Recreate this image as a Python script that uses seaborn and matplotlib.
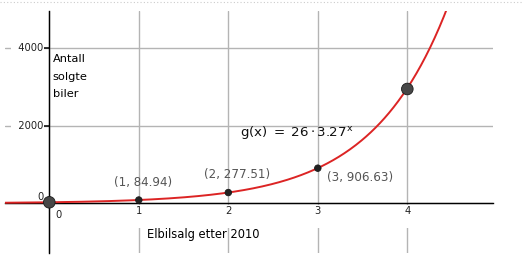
import numpy as np
import pandas as pd
import matplotlib
matplotlib.use("Agg")
import matplotlib.pyplot as plt
from matplotlib.lines import Line2D
import seaborn as sns

# ---- data ----
point_x = [0, 1, 2, 3, 4]
point_y = [26, 84.94, 277.51, 906.63, 2950]
point_kind = ["end", "mid", "mid", "mid", "end"]
point_labels = ["", "(1, 84.94)", "(2, 277.51)", "(3, 906.63)", ""]
label_pos = [None, (0.723, 454), (1.728, 661), (3.099, 583), None]

g_a = 26
g_b = 3.27

x_ticks = [0, 1, 2, 3, 4]
x_tick_labels = ["0", "1", "2", "3", "4"]
y_ticks = [2000, 4000]
y_tick_labels = ["2000", "4000"]

sns.set_theme(style="white")
plt.rcParams['font.family'] = ['DejaVu Sans']

fig = plt.figure(figsize=(5.23, 2.74), dpi=100)
ax = fig.add_axes([5 / 523, (274 - 252.7) / 274, 487.7 / 523, 241.7 / 274])
ax.set_facecolor("white")
ax.set_xlim(-0.495, 4.954)
ax.set_ylim(-1275, 4963)

# grid
ax.set_xticks(x_ticks)
ax.set_yticks([0] + y_ticks)
ax.grid(True, color="#b4b4b4", lw=1)
ax.set_axisbelow(False)
ax.tick_params(axis="x", length=0, labelbottom=False)
ax.tick_params(axis="y", which="major", direction="out", length=4, width=1.1,
               color="black", labelleft=False, left=True)

for s in ["top", "right"]:
    ax.spines[s].set_visible(False)
ax.spines["left"].set_position(("data", 0))
ax.spines["bottom"].set_position(("data", 0))
for s in ["left", "bottom"]:
    ax.spines[s].set_color("black")
    ax.spines[s].set_linewidth(1)
    ax.spines[s].set_zorder(4)

# function curve g(x) = 26 * 3.27^x
xs = np.linspace(-0.495, 4.6, 400)
curve = pd.DataFrame({"x": xs, "y": g_a * g_b ** xs})
sns.lineplot(data=curve, x="x", y="y", ax=ax, color="#dc2424", lw=1.4,
             zorder=5, legend=False)

# points
pts = pd.DataFrame({"x": point_x, "y": point_y, "kind": point_kind})
sns.scatterplot(data=pts, x="x", y="y", hue="kind", size="kind",
                sizes={"end": 70, "mid": 22},
                palette={"end": "#474747", "mid": "#222222"},
                edgecolor="#1a1a1a", linewidth=0.6, ax=ax, zorder=6,
                legend=False)

ax.set_xlabel("")
ax.set_ylabel("")

# point labels
for lab, pos in zip(point_labels, label_pos):
    if lab:
        ax.text(pos[0], pos[1], lab, fontsize=8.6, color="#555555",
                ha="left", va="baseline", zorder=7)

# tick labels with white background
white = dict(boxstyle="square,pad=0.1", fc="white", ec="none")
for xt, lab in zip(x_ticks, x_tick_labels):
    if xt == 0:
        ax.annotate(lab, (xt, 0), xytext=(9, -7), textcoords="offset pixels",
                    ha="center", va="top", fontsize=7.2, color="#222222",
                    zorder=3)
    else:
        ax.annotate(lab + "\n ", (xt, 0), xytext=(0, -3),
                    textcoords="offset pixels", ha="center", va="top",
                    fontsize=7.2, color="#222222", bbox=white, zorder=3,
                    linespacing=1.15)
for yt, lab in zip(y_ticks, y_tick_labels):
    ax.annotate("  " + lab, (0, yt), xytext=(-6, 0),
                textcoords="offset pixels", ha="right", va="center",
                fontsize=7.2, color="#222222", bbox=white, zorder=3)
ax.annotate("0", (0, 0), xytext=(-9, 1), textcoords="offset pixels",
            ha="center", va="bottom", fontsize=7.2, color="#222222", zorder=3)

# axis captions
ax.text(0.038, 3850, "Antall\nsolgte\nbiler", fontsize=8.2, color="black",
        ha="left", va="top", linespacing=1.95, zorder=7)
ax.text(1.088, -903, "Elbilsalg etter 2010", fontsize=8.3, color="black",
        ha="left", va="baseline", zorder=7)

# formula
ax.text(2.131, 1745, r"$\mathregular{g(x)\;=\;26\cdot3.27^{x}}$",
        fontsize=9.6, color="#111111", ha="left", va="baseline", zorder=7)

# dotted frame line at top
fig.add_artist(Line2D([0, 1], [1 - 1.7 / 274, 1 - 1.7 / 274],
                      transform=fig.transFigure, ls=(0, (1, 2)),
                      color="#cccccc", lw=0.8))

fig.savefig("out.png", dpi=100)
